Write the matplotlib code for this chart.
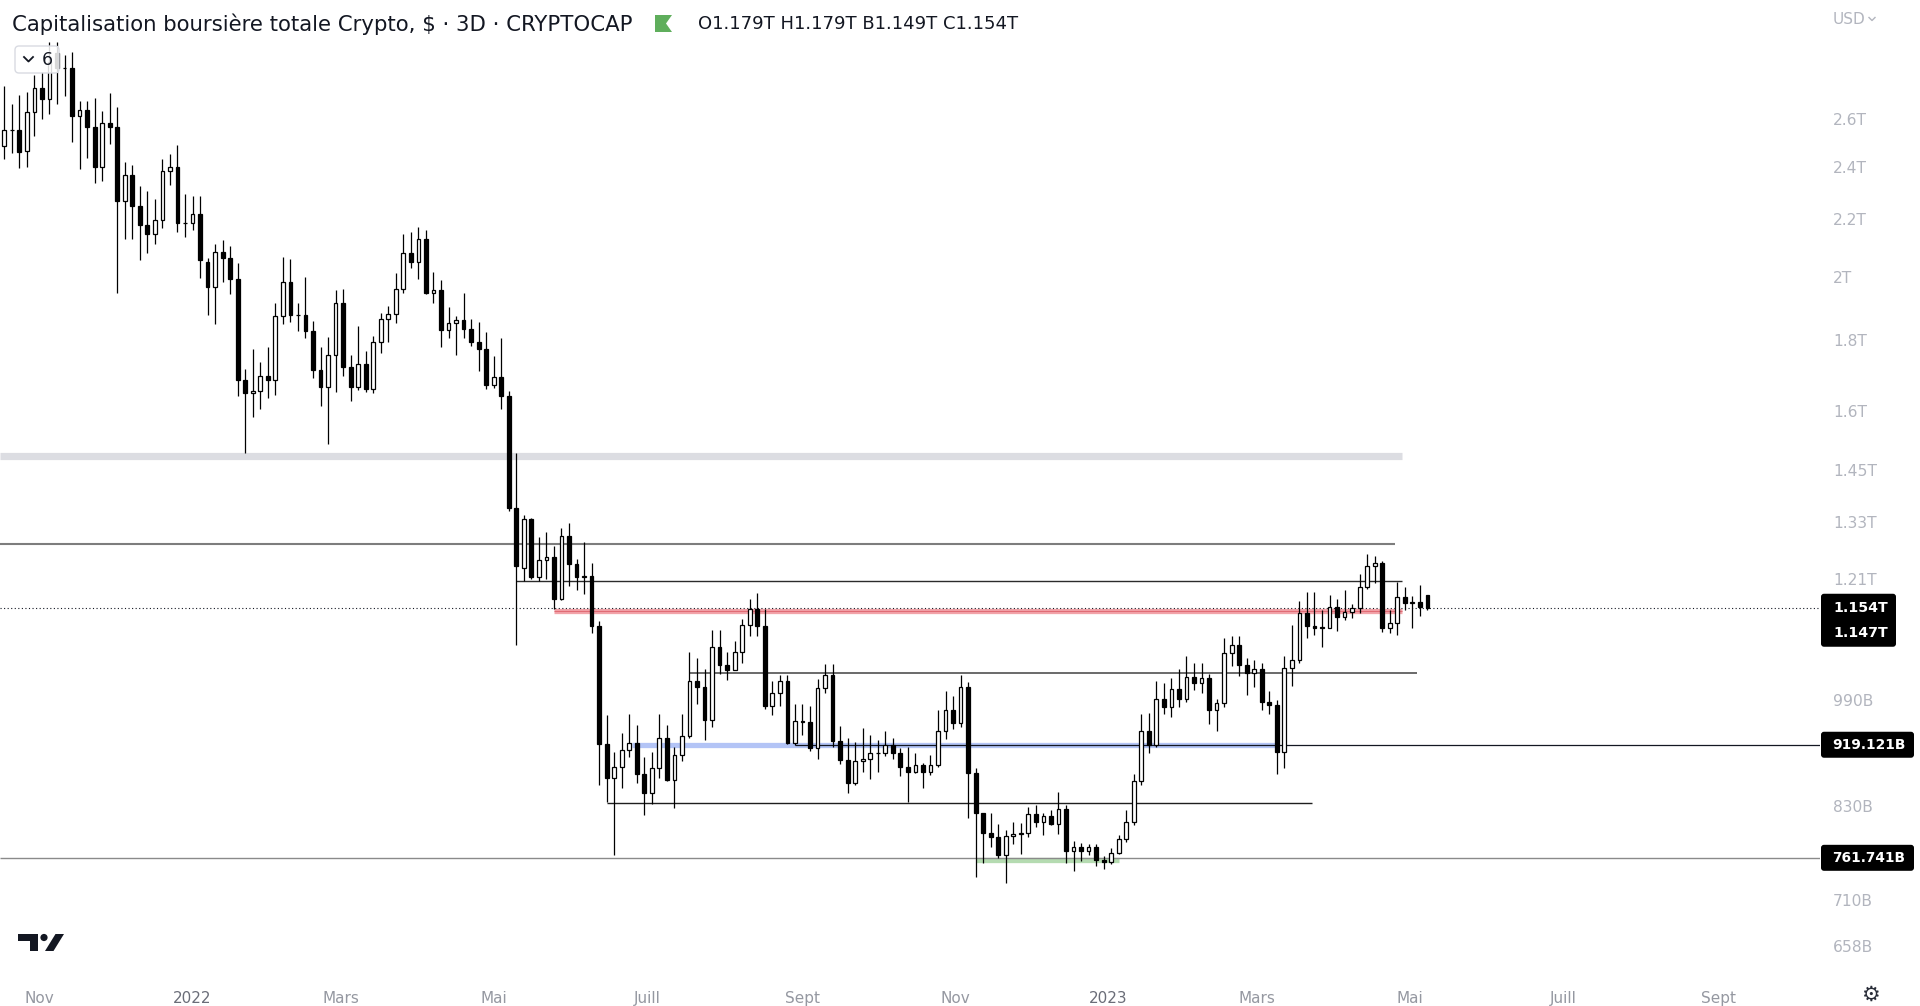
import numpy as np
import pandas as pd
import matplotlib
matplotlib.use("Agg")
import matplotlib.pyplot as plt
import matplotlib.dates as mdates
from matplotlib.patches import Polygon, FancyBboxPatch, Rectangle, Circle
from matplotlib.ticker import NullLocator

plt.rcParams['font.family'] = ['DejaVu Sans']

# ---------------- data (values in billions USD) ----------------
start_date = "2021-10-18"   # first 3-day candle

opens = [2483, 2550, 2552, 2465, 2628, 2735, 2688, 2900, 2829, 2831,
         2614, 2637, 2565, 2401, 2581, 2566, 2269, 2367, 2250, 2180,
         2148, 2196, 2383, 2399, 2187, 2185, 2219, 2050, 1965, 2083,
         2064, 1993, 1686, 1650, 1653, 1695, 1686, 1875, 1981, 1877,
         1878, 1826, 1714, 1666, 1756, 1913, 1720, 1664, 1730, 1661,
         1794, 1863, 1879, 1958, 2080, 2048, 2128, 1947, 1956, 1832,
         1853, 1860, 1835, 1795, 1775, 1672, 1693, 1641, 1363, 1232,
         1337, 1214, 1249, 1255, 1170, 1301, 1240, 1215, 1217, 1120,
         920, 870, 886, 911, 922, 876, 849, 884, 930, 867,
         904, 932, 1021, 1011, 958, 1081, 1050, 1041, 1072, 1121,
         1151, 1120, 981, 1001, 1022, 922, 956, 955, 914, 1010,
         1032, 925, 896, 863, 894, 897, 907, 906, 919, 906,
         886, 878, 889, 878, 889, 941, 973, 953, 1012, 877,
         820, 794, 788, 765, 790, 793, 794, 819, 809, 816,
         806, 826, 771, 775, 771, 776, 759, 757, 768, 786,
         808, 865, 940, 918, 991, 978, 1008, 992, 1029, 1018,
         1027, 974, 985, 1070, 1085, 1050, 1036, 1042, 986, 982,
         908, 1044, 1058, 1144, 1120, 1117, 1116, 1155, 1137, 1146,
         1154, 1194, 1236, 1243, 1116, 1125, 1174, 1164, 1165, 1179]

highs = [2745, 2664, 2704, 2718, 2796, 2811, 2953, 2952, 2890, 2903,
         2678, 2678, 2690, 2634, 2713, 2651, 2420, 2407, 2325, 2306,
         2275, 2432, 2451, 2489, 2295, 2287, 2287, 2063, 2112, 2126,
         2105, 2045, 1716, 1774, 1736, 1780, 1916, 2066, 2060, 1916,
         1998, 1857, 1780, 1809, 1955, 1959, 1756, 1843, 1768, 1812,
         1883, 1905, 2011, 2147, 2153, 2171, 2160, 2016, 1989, 1901,
         1874, 1945, 1864, 1855, 1824, 1754, 1806, 1654, 1493, 1347,
         1340, 1298, 1309, 1279, 1317, 1328, 1251, 1287, 1243, 1129,
         966, 908, 937, 967, 950, 900, 908, 968, 950, 915,
         967, 1072, 1062, 1043, 1112, 1112, 1072, 1092, 1133, 1171,
         1183, 1152, 1022, 1032, 1032, 984, 984, 981, 1025, 1051,
         1051, 948, 929, 923, 945, 934, 926, 941, 929, 914,
         915, 907, 891, 904, 973, 1005, 997, 1032, 1020, 885,
         820, 821, 806, 798, 809, 807, 829, 832, 821, 825,
         850, 831, 783, 781, 780, 780, 764, 774, 791, 825,
         875, 968, 969, 1021, 1019, 1027, 1043, 1065, 1053, 1052,
         1034, 991, 1097, 1101, 1101, 1061, 1058, 1052, 1005, 990,
         1065, 1122, 1167, 1184, 1185, 1150, 1179, 1171, 1189, 1161,
         1221, 1262, 1257, 1247, 1150, 1204, 1194, 1177, 1199, 1179]

lows = [2433, 2457, 2397, 2401, 2527, 2599, 2621, 2663, 2701, 2503,
        2393, 2437, 2337, 2345, 2494, 1947, 2130, 2130, 2056, 2082,
        2111, 2169, 2330, 2153, 2138, 2162, 1995, 1877, 1850, 1983,
        1943, 1641, 1493, 1585, 1606, 1636, 1643, 1850, 1856, 1829,
        1807, 1691, 1614, 1514, 1652, 1697, 1627, 1656, 1652, 1650,
        1763, 1795, 1853, 1947, 2030, 1993, 1943, 1915, 1781, 1807,
        1756, 1807, 1783, 1711, 1661, 1662, 1606, 1356, 1084, 1206,
        1211, 1207, 1210, 1151, 1168, 1197, 1188, 1180, 1107, 860,
        836, 765, 855, 901, 863, 818, 833, 870, 865, 827,
        895, 929, 984, 926, 947, 1033, 1023, 1040, 1052, 1102,
        1102, 976, 965, 981, 920, 918, 934, 910, 898, 1001,
        916, 890, 849, 859, 878, 868, 879, 902, 897, 873,
        836, 877, 855, 874, 886, 928, 944, 946, 814, 738,
        755, 775, 761, 730, 779, 766, 789, 802, 791, 805,
        793, 755, 745, 758, 765, 752, 748, 754, 766, 782,
        804, 859, 907, 916, 968, 963, 978, 987, 1006, 1002,
        952, 941, 979, 1048, 1031, 999, 1011, 973, 968, 876,
        884, 1014, 1052, 1098, 1103, 1081, 1115, 1111, 1130, 1134,
        1144, 1190, 1203, 1108, 1106, 1103, 1149, 1116, 1139, 1149]

closes = [2552, 2552, 2460, 2629, 2735, 2686, 2857, 2829, 2831, 2614,
          2637, 2565, 2401, 2581, 2566, 2269, 2367, 2250, 2180, 2148,
          2196, 2383, 2399, 2187, 2185, 2219, 2057, 1965, 2083, 2064,
          1993, 1686, 1650, 1653, 1695, 1686, 1875, 1981, 1877, 1878,
          1826, 1714, 1666, 1756, 1913, 1720, 1664, 1730, 1661, 1794,
          1863, 1879, 1958, 2080, 2048, 2128, 1947, 1956, 1832, 1853,
          1860, 1835, 1795, 1775, 1672, 1693, 1641, 1363, 1237, 1337,
          1214, 1249, 1255, 1170, 1301, 1240, 1215, 1217, 1120, 920,
          870, 886, 911, 922, 876, 849, 884, 930, 867, 904,
          932, 1021, 1011, 958, 1081, 1050, 1041, 1072, 1121, 1151,
          1120, 981, 1001, 1022, 922, 956, 955, 914, 1010, 1032,
          925, 896, 863, 894, 897, 907, 906, 919, 906, 886,
          878, 889, 878, 889, 941, 973, 953, 1012, 877, 820,
          794, 788, 765, 790, 793, 794, 819, 809, 816, 806,
          826, 771, 775, 771, 776, 759, 757, 768, 786, 808,
          865, 940, 918, 991, 978, 1008, 992, 1029, 1018, 1027,
          974, 985, 1070, 1085, 1050, 1036, 1042, 986, 982, 908,
          1044, 1058, 1144, 1120, 1116, 1115, 1155, 1137, 1146, 1154,
          1194, 1236, 1243, 1116, 1125, 1174, 1164, 1165, 1156, 1154]

ytick_values = [658, 710, 830, 990, 1210, 1330, 1450, 1600, 1800, 2000, 2200, 2400, 2600]
ytick_labels = ["658B", "710B", "830B", "990B", "1.21T", "1.33T", "1.45T", "1.6T",
                "1.8T", "2T", "2.2T", "2.4T", "2.6T"]
xtick_dates = ["2021-11-01", "2022-01-01", "2022-03-01", "2022-05-01", "2022-07-01",
               "2022-09-01", "2022-11-01", "2023-01-01", "2023-03-01", "2023-05-01",
               "2023-07-01", "2023-09-01"]
xtick_labels = ["Nov", "2022", "Mars", "Mai", "Juill", "Sept", "Nov", "2023", "Mars",
                "Mai", "Juill", "Sept"]

# drawn levels: value, start date, end date (None = chart edge)
gray_zone = (1486, None, "2023-04-28")
level_1283 = (1283, None, "2023-04-25")
level_1206 = (1206, "2022-05-10", "2023-04-28")
red_zone = (1147, "2022-05-25", "2023-04-28")
level_1036 = (1036, "2022-07-18", "2023-05-04")
blue_zone = (919.121, "2022-06-25", "2023-03-10")
level_919 = (919.121, "2022-08-29", None)
level_835 = (835, "2022-06-15", "2023-03-23")
level_761 = (761.741, None, None)
green_zone = (759, "2022-11-09", "2023-01-05")
last_price = 1154
label_last = "1.154T"
label_red = "1.147T"
label_919 = "919.121B"
label_761 = "761.741B"

title = "Capitalisation boursière totale Crypto, $ · 3D · CRYPTOCAP"
ohlc_text = "O1.179T H1.179T B1.149T C1.154T"

# ---------------- figure ----------------
W, H = 1920, 1006
fig = plt.figure(figsize=(W / 100, H / 100), dpi=100)
fig.patch.set_facecolor("white")
ax = fig.add_axes([0, 31 / H, 1820 / W, 975 / H])
ax.set_facecolor("white")

dates = pd.date_range(start_date, periods=len(opens), freq="3D")
xn = mdates.date2num(dates)
o = np.array(opens, float)
h = np.array(highs, float)
l = np.array(lows, float)
c = np.array(closes, float)

ax.set_yscale("log")
x_left = mdates.date2num(pd.Timestamp(start_date) - pd.Timedelta(days=1.7))
x_right = mdates.date2num(pd.Timestamp(start_date) + pd.Timedelta(days=723.4))
ax.set_xlim(x_left, x_right)
ax.set_ylim(627, 3167)


def dn(s, default):
    return default if s is None else mdates.date2num(pd.Timestamp(s))


def seg(level, color, lw, z, ls="-"):
    v, s, e = level
    ax.hlines(v, dn(s, x_left), dn(e, x_right), colors=color, linewidth=lw, zorder=z,
              linestyles=ls)


seg(gray_zone, "#dcdde2", 5.2, 1)
seg(red_zone, "#f2a3a9", 3.8, 1)
seg(red_zone, "#e06c75", 0.8, 1.1)
seg(blue_zone, "#b3c4f6", 3.8, 1)
seg(green_zone, "#b5dbb1", 3.8, 1)
seg(level_1283, "#7d7d7d", 1.5, 2)
seg(level_1206, "#2b2b2b", 1.0, 2)
seg(level_1036, "#5e5e5e", 1.3, 2)
seg(level_919, "#131722", 0.9, 2)
seg(level_835, "#1e1e1e", 1.0, 2)
seg(level_761, "#8a8a8a", 1.0, 2)
ax.axhline(last_price, color="#131722", linewidth=0.8, linestyle=(0, (1, 2.2)), zorder=2.5)

# candles
ax.vlines(xn, l, h, colors="black", linewidth=0.9, zorder=3)
face = np.where(c >= o, "white", "black")
ax.bar(xn, np.abs(c - o), bottom=np.minimum(o, c), width=1.5, color=face,
       edgecolor="black", linewidth=0.9, zorder=4)

for sp in ax.spines.values():
    sp.set_visible(False)

ax.yaxis.tick_right()
ax.set_yticks(ytick_values)
ax.set_yticklabels(ytick_labels)
ax.yaxis.set_minor_locator(NullLocator())
ax.tick_params(axis="y", length=0, pad=9.4, labelcolor="#b2b5be", labelsize=11.2)

ax.set_xticks(mdates.date2num(pd.to_datetime(xtick_dates)))
ax.set_xticklabels(xtick_labels)
ax.xaxis.set_minor_locator(NullLocator())
ax.tick_params(axis="x", length=0, pad=11.5, labelcolor="#9598a1", labelsize=11)
for t in ax.get_xticklabels():
    if t.get_text().isdigit():
        t.set_color("#6a6d78")

# ---------------- overlay in pixel coords ----------------
ov = fig.add_axes([0, 0, 1, 1])
ov.set_xlim(0, W)
ov.set_ylim(H, 0)
ov.axis("off")


def py(v):
    return H - ax.transData.transform((x_left, v))[1]


ov.text(12, 24, title, fontsize=15.3, color="#131722", va="center", ha="left")
ov.add_patch(Polygon([(655, 15), (672, 15), (666, 23.5), (672, 32), (655, 32)],
                     closed=True, fc="#5fae5c", ec="none"))
ov.text(698, 24, ohlc_text, fontsize=13.0, color="#131722", va="center", ha="left")

# small "6" indicator box
ov.add_patch(FancyBboxPatch((15, 46), 44, 27, boxstyle="round,pad=0,rounding_size=4",
                            fc=(1, 1, 1, 0.85), ec="#d9dbe2", lw=1))
ov.plot([24, 28.5, 33], [57, 61.5, 57], color="#131722", lw=1.3)
ov.text(47, 60, "6", fontsize=12.5, color="#131722", va="center", ha="center")

# USD
ov.text(1833, 19, "USD", fontsize=11, color="#b2b5be", va="center", ha="left")
ov.plot([1869, 1872, 1875], [17.5, 20.5, 17.5], color="#b2b5be", lw=1)

# price labels
y_last = py(last_price)
ov.add_patch(FancyBboxPatch((1821, y_last - 14), 75, 53,
                            boxstyle="round,pad=0,rounding_size=3", fc="#000000", ec="none"))
ov.text(1833, y_last, label_last, fontsize=10.2, fontweight="bold", color="white",
        va="center", ha="left")
ov.text(1833, y_last + 25, label_red, fontsize=10.2, fontweight="bold", color="white",
        va="center", ha="left")
for val, txt in [(level_919[0], label_919), (level_761[0], label_761)]:
    yc = py(val)
    ov.add_patch(FancyBboxPatch((1821, yc - 13), 93, 26,
                                boxstyle="round,pad=0,rounding_size=3", fc="#000000", ec="none"))
    ov.text(1832, yc, txt, fontsize=9.9, fontweight="bold", color="white",
            va="center", ha="left")

# TradingView logo
ov.add_patch(Rectangle((18, 934), 20, 6.5, fc="#131722", ec="none"))
ov.add_patch(Rectangle((30, 934), 8, 17, fc="#131722", ec="none"))
ov.add_patch(Circle((44, 937.5), 3.6, fc="#131722", ec="none"))
ov.add_patch(Polygon([(45, 951), (53.5, 951), (64, 934), (55.5, 934)], closed=True,
                     fc="#131722", ec="none"))

# gear
ov.text(1870, 995, "\u2699", fontsize=15, color="#2a2e39", va="center", ha="center")

fig.savefig("out.png", dpi=100, facecolor="white")
